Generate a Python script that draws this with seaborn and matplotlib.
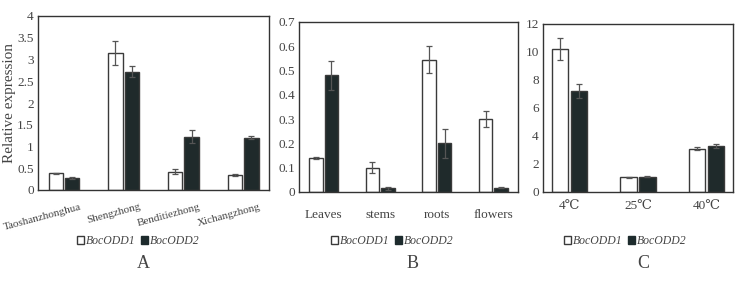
import pandas as pd
import numpy as np
import seaborn as sns
import matplotlib.pyplot as plt
import matplotlib.transforms as mtransforms
from matplotlib.patches import Patch
from matplotlib.ticker import FuncFormatter

# data
genes = ['BocODD1', 'BocODD2']

cult_names = ['Taoshanzhonghua', 'Shengzhong', 'Benditiezhong', 'Xichangzhong']
cult_odd1 = [0.38, 3.15, 0.42, 0.35]
cult_odd1_err = [0.02, 0.27, 0.06, 0.02]
cult_odd2 = [0.27, 2.72, 1.22, 1.20]
cult_odd2_err = [0.02, 0.12, 0.15, 0.03]

tissue_names = ['Leaves', 'stems', 'roots', 'flowers']
tissue_odd1 = [0.14, 0.10, 0.545, 0.30]
tissue_odd1_err = [0.005, 0.022, 0.055, 0.032]
tissue_odd2 = [0.48, 0.015, 0.20, 0.018]
tissue_odd2_err = [0.06, 0.005, 0.06, 0.003]

temp_names = ['4℃', '25℃', '40℃']
temp_odd1 = [10.2, 1.05, 3.1]
temp_odd1_err = [0.8, 0.02, 0.1]
temp_odd2 = [7.25, 1.08, 3.3]
temp_odd2_err = [0.5, 0.03, 0.15]

sns.set_theme(style='white')
plt.rcParams['font.family'] = ['Liberation Serif', 'DejaVu Serif']

white_c = '#ffffff'
dark_c = '#1d2b2d'
edge_c = '#3a3a3a'
txt_c = '#444444'


def make_df(names, v1, v2):
    return pd.DataFrame({
        'cat': names * 2,
        'gene': [genes[0]] * len(names) + [genes[1]] * len(names),
        'val': v1 + v2,
    })


fig = plt.figure(figsize=(7.44, 2.81), dpi=100)
W, H = 744, 281


def px_axes(l, t, r, b):
    return fig.add_axes([l / W, 1 - b / H, (r - l) / W, (b - t) / H])


axA = px_axes(38, 16, 269, 190)
axB = px_axes(299, 22, 518, 192)
axC = px_axes(543, 24, 733, 192)

panels = [
    (axA, cult_names, cult_odd1, cult_odd2, cult_odd1_err, cult_odd2_err, (0, 4), 0.5, 'A', 143, 138),
    (axB, tissue_names, tissue_odd1, tissue_odd2, tissue_odd1_err, tissue_odd2_err, (0, 0.7), 0.1, 'B', 413, 392),
    (axC, temp_names, temp_odd1, temp_odd2, temp_odd1_err, temp_odd2_err, (0, 12), 2, 'C', 643, 625),
]

for ax, names, v1, v2, e1, e2, ylim, step, letter, lx, legx in panels:
    df = make_df(names, v1, v2)
    sns.barplot(data=df, x='cat', y='val', hue='gene', ax=ax,
                palette=[white_c, dark_c], edgecolor=edge_c, linewidth=1.0,
                width=0.55, gap=0.12, errorbar=None, legend=False)
    errs = e1 + e2
    vals = v1 + v2
    for p, v, e in zip(ax.patches, vals, errs):
        cx = p.get_x() + p.get_width() / 2
        ax.errorbar(cx, v, yerr=e, fmt='none', ecolor='#555555',
                    elinewidth=0.9, capsize=2, capthick=0.9)
    ax.set_ylim(*ylim)
    ax.set_yticks(np.arange(ylim[0], ylim[1] + step / 2, step))
    ax.yaxis.set_major_formatter(FuncFormatter(lambda y, _: f'{y:g}'))
    ax.set_xlabel('')
    ax.set_ylabel('')
    ax.tick_params(axis='both', length=0, labelsize=9.5, colors=txt_c, pad=3)
    for s in ax.spines.values():
        s.set_visible(True)
        s.set_color('#333333')
        s.set_linewidth(1.0)
    handles = [Patch(facecolor=white_c, edgecolor=edge_c, label=genes[0]),
               Patch(facecolor=dark_c, edgecolor=dark_c, label=genes[1])]
    fig.legend(handles=handles, loc='center', bbox_to_anchor=(legx / W, 1 - 241 / H),
               ncol=2, frameon=False, handlelength=0.6, handleheight=0.6,
               handletextpad=0.15, columnspacing=0.5,
               prop={'style': 'italic', 'size': 8.5}, labelcolor=txt_c)
    fig.text(lx / W, 1 - 263 / H, letter, ha='center', va='center',
             fontsize=13, color=txt_c)

# slanted cultivar labels, right end a little past the group centre
axA.tick_params(axis='x', labelsize=8, pad=9)
shift = mtransforms.ScaledTranslation(16 / 100, 0, fig.dpi_scale_trans)
for lab in axA.get_xticklabels():
    lab.set_rotation(15)
    lab.set_ha('right')
    lab.set_va('top')
    lab.set_rotation_mode('anchor')
    lab.set_transform(lab.get_transform() + shift)
axB.tick_params(axis='x', pad=12)
axC.tick_params(axis='x', pad=6)
axA.set_ylabel('Relative expression', fontsize=11, color=txt_c, labelpad=1)

fig.savefig('out.png', dpi=100)
